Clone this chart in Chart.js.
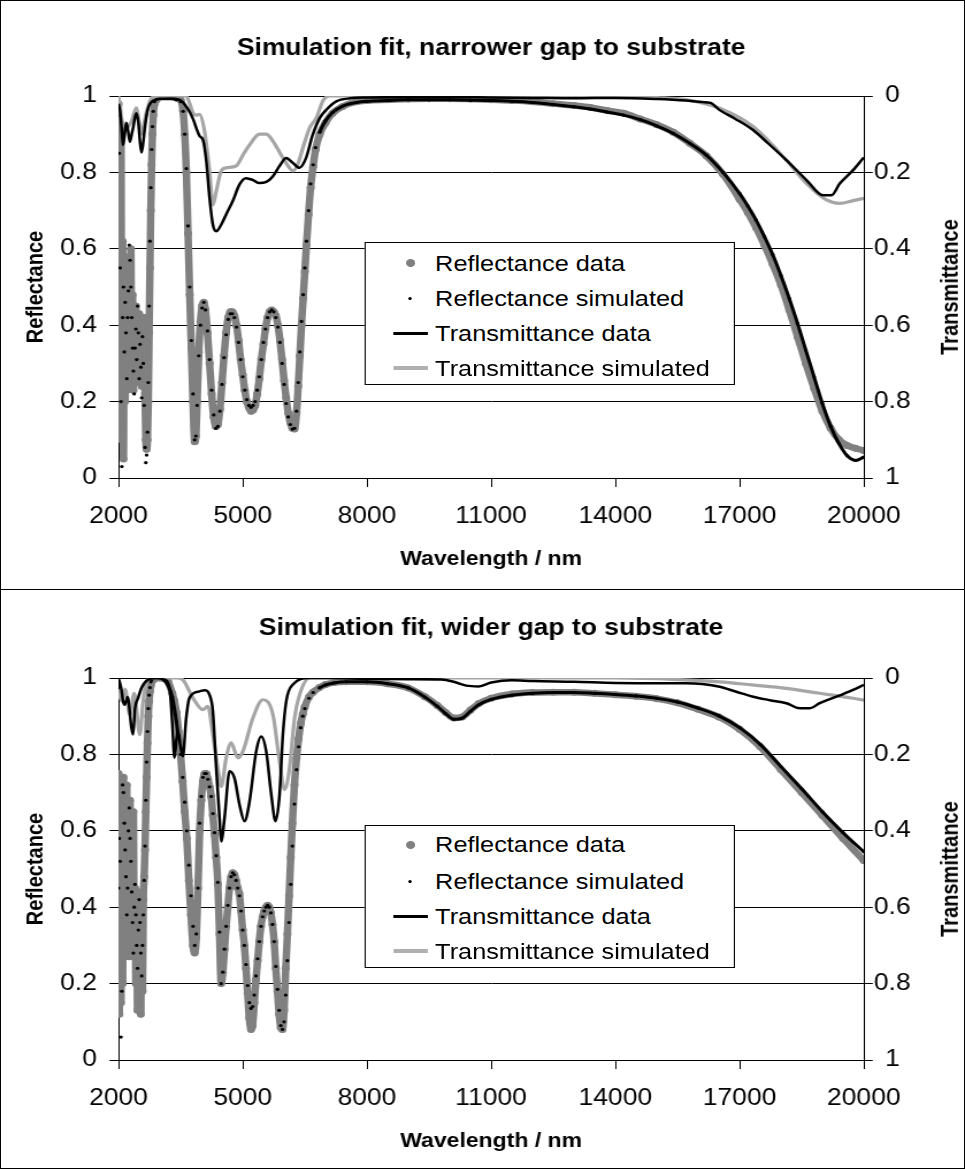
<!DOCTYPE html>
<html><head><meta charset="utf-8">
<script src="https://cdn.jsdelivr.net/npm/chart.js@4.4.1/dist/chart.umd.min.js"></script>
<style>
html,body{margin:0;padding:0;background:#fff;}
body{width:965px;height:1169px;position:relative;overflow:hidden;font-family:"Liberation Sans",Arial,sans-serif;color:#000;}
#stage{position:absolute;left:0;top:0;width:839px;height:1169px;transform:scaleX(1.15018);transform-origin:0 0;}
canvas{position:absolute;left:0;}
#c1{top:0;} #c2{top:589px;}
.frame{position:absolute;left:0;top:0;width:963px;height:1167px;border:1px solid #000;pointer-events:none;}
.sep{position:absolute;left:0;top:589px;width:965px;height:1px;background:#000;}
.ytitle{position:absolute;font-weight:bold;font-size:20px;transform:translate(-50%,-50%) rotate(-90deg);white-space:nowrap;}
.legend{position:absolute;background:#fff;border:1px solid #000;box-sizing:border-box;}
.row{position:absolute;left:0;width:100%;height:35px;line-height:35px;font-size:22px;white-space:nowrap;}
.lbl{position:absolute;left:60.8px;top:0;}
.mk{position:absolute;}
.dotg{left:35.1px;top:13.5px;width:8px;height:8px;border-radius:50%;background:#808080;}
.dotk{left:37.6px;top:16px;width:3px;height:3px;border-radius:50%;background:#000;}
.lnk{left:24.3px;top:16px;width:30.4px;height:3px;background:#000;}
.lng{left:24.3px;top:15.5px;width:30.4px;height:4px;background:#b0b0b0;}
</style>
</head>
<body>
<div id="stage">
<canvas id="c1" width="839" height="589"></canvas>
<canvas id="c2" width="839" height="580"></canvas>
<div class="ytitle" style="left:826px;top:287px;">Transmittance</div>
<div class="ytitle" style="left:826px;top:869px;">Transmittance</div>
<div class="legend" style="left:316.5px;top:242px;width:322.6px;height:143px;">
  <div class="row" style="top:2.5px"><span class="mk dotg"></span><span class="lbl">Reflectance data</span></div>
  <div class="row" style="top:37.5px"><span class="mk dotk"></span><span class="lbl">Reflectance simulated</span></div>
  <div class="row" style="top:72.5px"><span class="mk lnk"></span><span class="lbl">Transmittance data</span></div>
  <div class="row" style="top:107.5px"><span class="mk lng"></span><span class="lbl">Transmittance simulated</span></div>
</div>
<div class="legend" style="left:316.5px;top:825px;width:322px;height:143px;">
  <div class="row" style="top:1px"><span class="mk dotg"></span><span class="lbl">Reflectance data</span></div>
  <div class="row" style="top:37.5px"><span class="mk dotk"></span><span class="lbl">Reflectance simulated</span></div>
  <div class="row" style="top:72.5px"><span class="mk lnk"></span><span class="lbl">Transmittance data</span></div>
  <div class="row" style="top:107.5px"><span class="mk lng"></span><span class="lbl">Transmittance simulated</span></div>
</div>
</div>
<div class="frame"></div>
<div class="sep"></div>
<script>
// ---------- tick labels ----------
const xTickValues = [2000, 5000, 8000, 11000, 14000, 17000, 20000];
const yTickValues = [0, 0.2, 0.4, 0.6, 0.8, 1];

// ---------- Panel 1: narrower gap ----------
const p1RWl = [2000,2020,2040,2060,2080,2100,2120,2140,2160,2180,
  2200,2220,2240,2260,2280,2300,2320,2340,2360,2380,
  2400,2420,2440,2460,2480,2500,2520,2540,2560,2580,
  2600,2620,2640,2660,2680,2700,2720,2740,2760,2780,
  2800,2820,2840,2870,2920,3000,3100,3200,3300,3400,
  3500,3560,3600,3640,3680,3720,3760,3800,3840,3870,
  3900,3940,3980,4020,4060,4100,4150,4200,4250,4300,
  4350,4400,4450,4500,4550,4600,4650,4700,4750,4800,
  4850,4900,4950,5000,5050,5100,5150,5200,5250,5300,
  5350,5400,5450,5500,5550,5600,5650,5700,5750,5800,
  5850,5900,5950,6000,6050,6100,6150,6200,6250,6300,
  6340,6380,6420,6460,6500,6540,6590,6640,6700,6760,
  6860,7000,7170,7400,7750,8000,8500,9000,9500,10000,
  10500,11000,11500,12000,12500,13000,13400,13800,14200,14600,
  15000,15400,15800,16200,16600,17000,17200,17400,17600,17800,
  18000,18200,18400,18600,18800,19000,19200,19400,19600,19800,20000];
const p1RData = [0.98,0.70,0.25,0.92,0.10,0.62,0.05,0.48,0.20,0.50,
  0.23,0.47,0.28,0.58,0.26,0.60,0.30,0.48,0.23,0.44,
  0.25,0.45,0.28,0.42,0.25,0.43,0.30,0.40,0.24,0.41,
  0.31,0.42,0.22,0.10,0.075,0.10,0.20,0.38,0.55,0.70,
  0.82,0.90,0.95,0.98,0.99,1.0,1.0,1.0,0.998,0.995,
  0.99,0.96,0.90,0.80,0.64,0.48,0.34,0.20,0.095,0.11,
  0.20,0.33,0.41,0.45,0.46,0.44,0.38,0.30,0.22,0.16,
  0.135,0.14,0.18,0.25,0.32,0.38,0.42,0.435,0.435,0.425,
  0.40,0.36,0.31,0.27,0.23,0.20,0.185,0.175,0.178,0.19,
  0.22,0.26,0.31,0.35,0.39,0.42,0.435,0.44,0.435,0.425,
  0.40,0.36,0.31,0.255,0.21,0.17,0.145,0.13,0.128,0.17,
  0.24,0.32,0.40,0.47,0.54,0.61,0.69,0.76,0.815,0.86,
  0.90,0.93,0.955,0.972,0.985,0.988,0.99,0.992,0.993,0.993,
  0.992,0.99,0.988,0.985,0.98,0.975,0.97,0.962,0.955,0.94,
  0.925,0.905,0.876,0.843,0.795,0.73,0.695,0.655,0.61,0.56,
  0.505,0.44,0.37,0.30,0.235,0.175,0.13,0.10,0.085,0.078,0.072];
const p1RSim = [0.95,0.85,0.55,0.20,0.03,0.42,0.50,0.33,0.46,0.38,
  0.26,0.42,0.49,0.61,0.57,0.50,0.42,0.34,0.28,0.22,
  0.34,0.39,0.31,0.45,0.38,0.26,0.35,0.29,0.21,0.37,
  0.30,0.19,0.08,0.04,0.06,0.12,0.25,0.45,0.62,0.76,
  0.86,0.92,0.96,0.985,0.995,1.0,1.0,0.998,0.995,0.99,
  0.985,0.96,0.90,0.81,0.66,0.50,0.36,0.22,0.10,0.11,
  0.19,0.32,0.40,0.445,0.46,0.44,0.385,0.31,0.23,0.165,
  0.13,0.135,0.175,0.245,0.315,0.375,0.415,0.43,0.43,0.42,
  0.395,0.355,0.31,0.265,0.23,0.205,0.19,0.185,0.19,0.20,
  0.23,0.265,0.31,0.355,0.39,0.42,0.435,0.44,0.435,0.42,
  0.395,0.355,0.30,0.245,0.195,0.16,0.14,0.128,0.13,0.175,
  0.25,0.33,0.41,0.48,0.55,0.62,0.70,0.77,0.82,0.865,
  0.905,0.935,0.957,0.973,0.983,0.986,0.988,0.99,0.99,0.99,
  0.989,0.988,0.986,0.983,0.978,0.972,0.966,0.958,0.95,0.938,
  0.922,0.902,0.876,0.845,0.80,0.745,0.712,0.675,0.632,0.585,
  0.53,0.47,0.405,0.335,0.265,0.195,0.135,0.09,0.058,0.046,0.055];
const p1TDataWl = [2000,2040,2080,2110,2150,2190,2230,2275,2320,2360,
  2400,2435,2480,2520,2555,2600,2640,2680,2720,2800,
  2900,3000,3200,3400,3500,3600,3700,3800,3900,3960,
  4040,4120,4200,4280,4360,4480,4600,4760,4920,5080,
  5250,5400,5570,5730,5890,6050,6210,6370,6530,6690,
  6860,7020,7260,7600,8000,9000,10000,11000,12000,13000,
  14000,15000,15700,16100,16300,16520,16900,17325,17700,18130,
  18615,19016,19218,19420,19742,20000];
const p1TData = [0.02,0.04,0.09,0.128,0.10,0.07,0.09,0.12,0.10,0.08,
  0.055,0.045,0.07,0.12,0.148,0.12,0.08,0.05,0.03,0.015,
  0.01,0.008,0.008,0.008,0.012,0.022,0.038,0.06,0.09,0.105,
  0.115,0.17,0.267,0.337,0.354,0.337,0.31,0.275,0.232,0.215,
  0.22,0.228,0.225,0.21,0.183,0.162,0.175,0.188,0.162,0.102,
  0.058,0.036,0.014,0.006,0.004,0.003,0.003,0.004,0.005,0.006,
  0.005,0.008,0.012,0.016,0.018,0.037,0.06,0.089,0.125,0.168,
  0.22,0.26,0.26,0.229,0.194,0.161];
const p1TSimWl = [2000,2070,2130,2190,2250,2315,2375,2435,2495,2555,
  2615,2680,2800,3000,3400,3635,3720,3796,3880,3957,
  4078,4199,4279,4360,4481,4601,4843,5004,5165,5407,
  5568,5729,5970,6131,6212,6333,6453,6614,6775,6936,
  7098,8000,10000,12000,14000,15000,15720,16520,17325,18130,
  18615,19097,19420,19742,20000];
const p1TSim = [0.0,0.058,0.075,0.084,0.078,0.066,0.045,0.031,0.065,0.10,
  0.075,0.04,0.005,0.0,0.0,0.0,0.02,0.044,0.05,0.048,
  0.092,0.196,0.285,0.25,0.196,0.188,0.183,0.155,0.128,0.10,
  0.10,0.118,0.162,0.188,0.196,0.178,0.136,0.084,0.058,0.013,
  0.0,0.0,0.0,0.0,0.0,0.004,0.01,0.032,0.08,0.168,
  0.229,0.272,0.281,0.274,0.268];

// ---------- Panel 2: wider gap ----------
const p2RWl = [2000,2020,2040,2060,2080,2100,2120,2140,2160,2180,
  2200,2220,2240,2260,2280,2300,2320,2340,2360,2380,
  2400,2420,2440,2460,2480,2500,2520,2540,2560,2580,
  2600,2620,2640,2660,2680,2700,2720,2740,2760,2780,
  2800,2840,2900,3000,3100,3200,3300,3350,3400,3450,
  3500,3550,3600,3650,3700,3750,3800,3840,3880,3920,
  3960,4000,4040,4080,4120,4160,4200,4240,4280,4320,
  4360,4400,4440,4480,4520,4560,4600,4640,4680,4720,
  4760,4800,4840,4880,4920,4960,5000,5040,5080,5120,
  5160,5200,5240,5280,5320,5360,5400,5440,5480,5520,
  5560,5600,5640,5680,5720,5760,5800,5840,5880,5920,
  5960,6000,6040,6080,6120,6160,6200,6250,6300,6350,
  6400,6450,6500,6600,6700,6850,7000,7200,7500,8000,
  8500,9000,9400,9700,9900,10100,10300,10500,10700,11000,
  11500,12000,12500,13000,13500,14000,14500,15000,15500,16000,
  16500,17000,17500,18000,18500,19000,19500,20000];
const p2RData = [0.75,0.12,0.70,0.15,0.60,0.20,0.74,0.28,0.65,0.30,
  0.72,0.35,0.62,0.27,0.68,0.32,0.58,0.28,0.65,0.30,
  0.45,0.20,0.42,0.13,0.38,0.15,0.44,0.12,0.40,0.18,
  0.42,0.48,0.55,0.65,0.74,0.83,0.90,0.94,0.965,0.98,
  0.99,0.995,1.0,1.0,0.998,0.99,0.96,0.94,0.91,0.86,
  0.80,0.73,0.65,0.58,0.47,0.38,0.30,0.28,0.32,0.45,
  0.60,0.68,0.73,0.75,0.75,0.735,0.715,0.69,0.64,0.59,
  0.53,0.46,0.33,0.20,0.23,0.29,0.35,0.40,0.45,0.48,
  0.49,0.485,0.47,0.45,0.435,0.39,0.34,0.30,0.24,0.175,
  0.11,0.08,0.09,0.15,0.21,0.26,0.31,0.35,0.375,0.39,
  0.40,0.405,0.40,0.385,0.355,0.31,0.24,0.18,0.12,0.085,
  0.08,0.13,0.24,0.33,0.43,0.53,0.62,0.72,0.79,0.84,
  0.88,0.905,0.925,0.95,0.963,0.975,0.983,0.988,0.99,0.99,
  0.985,0.974,0.951,0.928,0.91,0.895,0.898,0.916,0.933,0.947,
  0.958,0.962,0.963,0.963,0.96,0.956,0.952,0.946,0.935,0.918,
  0.898,0.866,0.82,0.76,0.70,0.64,0.58,0.522];
const p2RSim = [0.45,0.58,0.52,0.06,0.18,0.72,0.70,0.62,0.55,0.48,
  0.38,0.45,0.60,0.66,0.58,0.52,0.44,0.36,0.28,0.40,
  0.46,0.38,0.30,0.24,0.34,0.42,0.36,0.28,0.22,0.30,
  0.38,0.47,0.56,0.68,0.78,0.86,0.92,0.955,0.975,0.99,
  0.995,1.0,1.0,1.0,0.995,0.98,0.95,0.92,0.885,0.845,
  0.80,0.74,0.675,0.60,0.51,0.43,0.35,0.30,0.33,0.45,
  0.62,0.69,0.74,0.75,0.75,0.735,0.715,0.69,0.645,0.595,
  0.535,0.465,0.335,0.20,0.23,0.29,0.35,0.405,0.45,0.48,
  0.49,0.485,0.47,0.45,0.43,0.39,0.34,0.30,0.25,0.195,
  0.15,0.135,0.14,0.17,0.22,0.265,0.31,0.35,0.375,0.39,
  0.40,0.405,0.40,0.385,0.355,0.31,0.245,0.185,0.13,0.09,
  0.08,0.10,0.17,0.26,0.36,0.46,0.56,0.67,0.76,0.82,
  0.87,0.90,0.92,0.947,0.962,0.974,0.982,0.987,0.99,0.99,
  0.985,0.974,0.95,0.926,0.907,0.892,0.895,0.913,0.93,0.944,
  0.955,0.96,0.962,0.962,0.96,0.957,0.953,0.947,0.937,0.921,
  0.901,0.87,0.826,0.768,0.71,0.65,0.595,0.545];
const p2TDataWl = [2000,2065,2110,2150,2220,2314,2354,2395,2475,2555,
  2700,2900,3100,3232,3300,3353,3400,3434,3500,3554,
  3635,3715,3957,4078,4199,4279,4360,4440,4481,4561,
  4682,4802,4923,5044,5165,5326,5447,5568,5689,5793,
  5890,5970,6051,6212,6614,7000,8000,9000,9800,10100,
  10400,10700,11000,11500,12000,13000,14000,15000,15700,16100,
  16520,16920,17325,17730,18130,18450,18700,18935,19340,19740,
  20000];
const p2TData = [0.0,0.026,0.06,0.07,0.05,0.131,0.148,0.083,0.052,0.026,
  0.005,0.0,0.004,0.026,0.12,0.209,0.16,0.14,0.18,0.205,
  0.105,0.052,0.035,0.032,0.044,0.087,0.236,0.366,0.428,0.366,
  0.244,0.262,0.332,0.375,0.323,0.192,0.153,0.192,0.305,0.375,
  0.305,0.148,0.061,0.017,0.0,0.0,0.002,0.003,0.004,0.01,
  0.02,0.022,0.012,0.006,0.008,0.01,0.013,0.014,0.014,0.016,
  0.023,0.036,0.049,0.058,0.066,0.079,0.079,0.066,0.049,0.031,
  0.018];
const p2TSimWl = [2000,2070,2160,2275,2380,2515,2595,2680,2800,3000,
  3393,3554,3796,4037,4158,4279,4400,4481,4601,4722,
  4883,5004,5246,5487,5729,5890,6010,6131,6252,6373,
  6614,8000,10000,12000,14000,15500,16520,17300,18130,18935,
  19740,20000];
const p2TSim = [0.03,0.06,0.03,0.096,0.04,0.148,0.06,0.01,0.0,0.0,
  0.0,0.005,0.052,0.083,0.074,0.148,0.236,0.284,0.209,0.17,
  0.209,0.192,0.105,0.057,0.096,0.218,0.292,0.236,0.105,0.044,
  0.0,0.0,0.0,0.0,0.0,0.004,0.01,0.018,0.027,0.04,
  0.053,0.058];

// ---------- chart builder ----------
const FONT = '"Liberation Sans", Arial, sans-serif';
function pts(xs, ys) { return xs.map((x, i) => ({ x: x, y: ys[i] })); }
function fmtY(v) { return String(Math.round(v * 10) / 10); }

function makeChart(id, c) {
  const black = '#000';
  return new Chart(document.getElementById(id), {
    type: 'scatter',
    data: {
      datasets: [
        { label: 'Transmittance data', data: pts(c.tdx, c.tdy), yAxisID: 'y2', showLine: true,
          borderColor: black, borderWidth: 2.5, pointRadius: 0, cubicInterpolationMode: 'monotone',
          borderJoinStyle: 'round', order: 1 },
        { label: 'Transmittance simulated', data: pts(c.tsx, c.tsy), yAxisID: 'y2', showLine: true,
          borderColor: '#a6a6a6', borderWidth: 3.2, pointRadius: 0, cubicInterpolationMode: 'monotone',
          borderJoinStyle: 'round', order: 2 },
        { label: 'Reflectance simulated', data: pts(c.rx, c.rs), yAxisID: 'y', showLine: true,
          borderWidth: 3, cubicInterpolationMode: 'monotone', borderColor: black,
          segment: { borderColor: s => ((s.p0.parsed.x >= 6800) || (s.p0.parsed.x >= 2900 && s.p1.parsed.x <= 3450)) ? black : 'rgba(0,0,0,0)' },
          pointRadius: 1.6, pointBackgroundColor: black, pointBorderWidth: 0, order: 3 },
        { label: 'Reflectance data', data: pts(c.rx, c.rd), yAxisID: 'y', showLine: true,
          borderColor: '#808080', borderWidth: 6.5, borderJoinStyle: 'round', borderCapStyle: 'round',
          cubicInterpolationMode: 'monotone',
          pointRadius: 3.5, pointBackgroundColor: '#808080', pointBorderWidth: 0, order: 4 }
      ]
    },
    options: {
      responsive: false, animation: false, devicePixelRatio: 1, events: [],
      layout: { padding: 0 },
      plugins: {
        legend: { display: false }, tooltip: { enabled: false },
        title: { display: true, text: c.title, color: black, fullSize: false,
          font: { family: FONT, size: 23, weight: 'bold' },
          padding: { top: c.tTop, bottom: c.tBot } }
      },
      scales: {
        x: { type: 'linear', position: 'bottom', min: 2000, max: 20000,
          afterBuildTicks: s => { s.ticks = xTickValues.map(v => ({ value: v })); },
          ticks: { color: black, font: { family: FONT, size: 23 }, padding: 15.9, maxRotation: 0, autoSkip: false,
            callback: v => String(v) },
          grid: { drawOnChartArea: false, drawTicks: true, tickLength: 9, color: black, lineWidth: 1 },
          border: { display: true, color: black, width: 1 },
          title: { display: true, text: 'Wavelength / nm', color: black,
            font: { family: FONT, size: 20, weight: 'bold' }, padding: { top: 0, bottom: c.xtPad } },
          afterFit: s => { s.height = c.xh; } },
        y: { type: 'linear', position: 'left', min: 0, max: 1,
          afterBuildTicks: s => { s.ticks = yTickValues.map(v => ({ value: v })); },
          ticks: { color: black, font: { family: FONT, size: 23 }, padding: 11, callback: fmtY },
          grid: { color: black, lineWidth: 1, drawTicks: true, tickLength: 7.8 },
          border: { display: true, color: black, width: 1 },
          title: { display: true, text: 'Reflectance', color: black,
            font: { family: FONT, size: 20, weight: 'bold' }, padding: { top: 19.3, bottom: 0 } },
          afterFit: s => { s.width = 103; } },
        y2: { type: 'linear', position: 'right', min: 0, max: 1, reverse: true,
          afterBuildTicks: s => { s.ticks = yTickValues.map(v => ({ value: v })); },
          ticks: { color: black, font: { family: FONT, size: 23 }, padding: 1, crossAlign: 'center', callback: fmtY },
          grid: { drawOnChartArea: false, drawTicks: true, tickLength: 7.8, color: black, lineWidth: 1 },
          border: { display: true, color: black, width: 1 },
          afterFit: s => { s.width = 88; } }
      }
    }
  });
}

makeChart('c1', { title: 'Simulation fit, narrower gap to substrate', tTop: 34.9, tBot: 33.5, xh: 111, xtPad: 17.5,
  rx: p1RWl, rd: p1RData, rs: p1RSim, tdx: p1TDataWl, tdy: p1TData, tsx: p1TSimWl, tsy: p1TSim });
makeChart('c2', { title: 'Simulation fit, wider gap to substrate', tTop: 26.2, tBot: 35.2, xh: 109, xtPad: 16,
  rx: p2RWl, rd: p2RData, rs: p2RSim, tdx: p2TDataWl, tdy: p2TData, tsx: p2TSimWl, tsy: p2TSim });
</script>
</body></html>
